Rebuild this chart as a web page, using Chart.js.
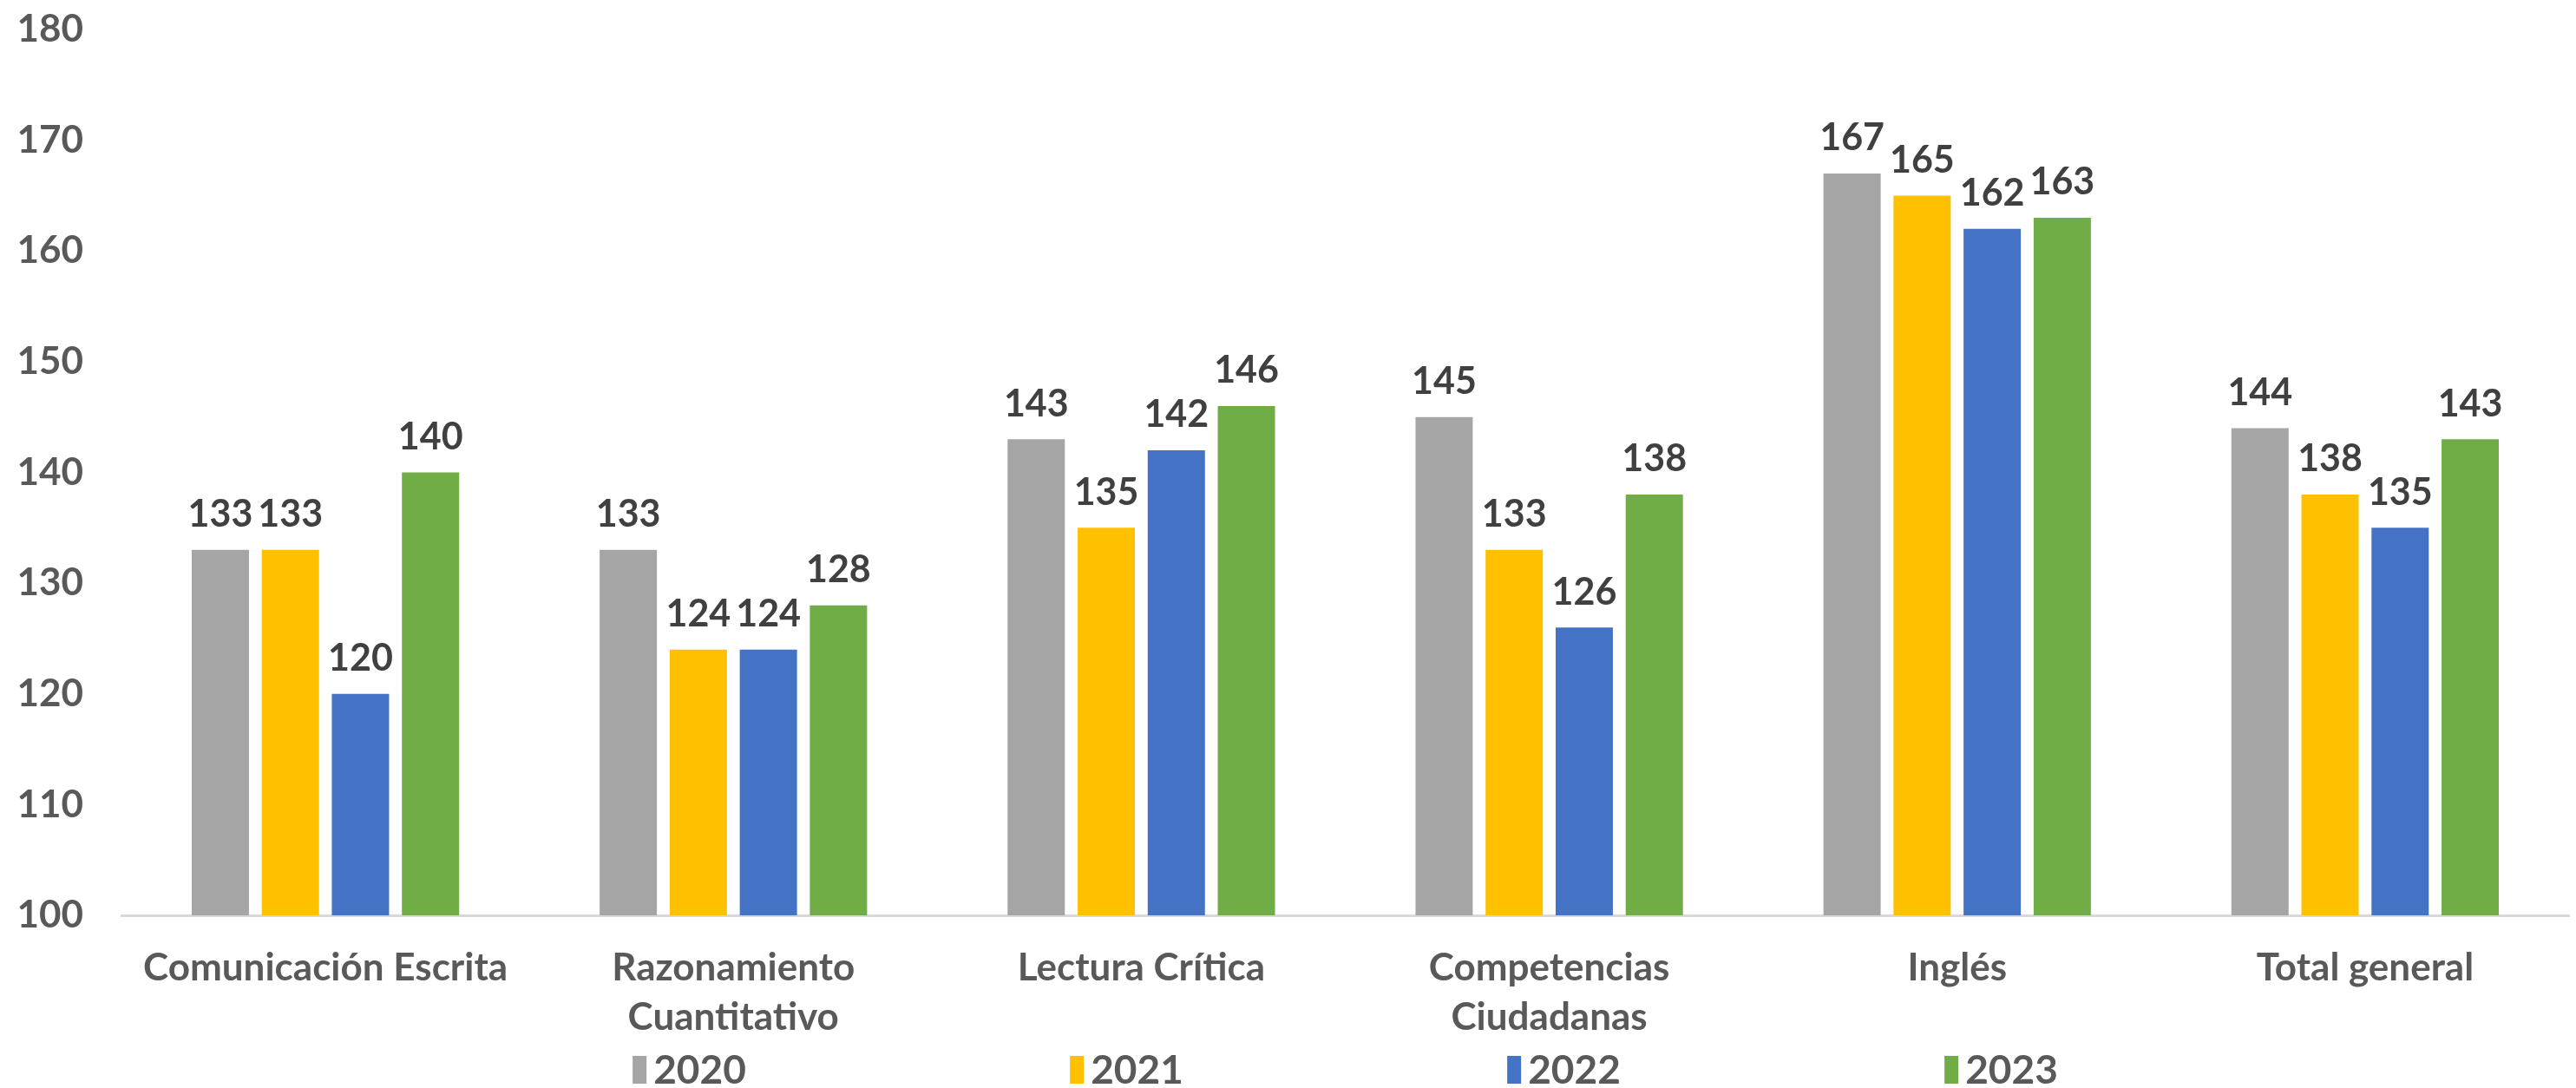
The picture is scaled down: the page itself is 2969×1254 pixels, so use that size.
<!DOCTYPE html>
<html>
<head>
<meta charset="utf-8">
<script src="https://cdn.jsdelivr.net/npm/chart.js@4.4.1/dist/chart.umd.min.js"></script>
<style>
  html, body { margin: 0; padding: 0; background: #ffffff; }
  #wrap { width: 2969px; height: 1254px; position: relative; }
</style>
</head>
<body>
<div id="wrap"><canvas id="c" width="2969" height="1254"></canvas></div>
<script>
const categories = [
  "Comunicación Escrita",
  ["Razonamiento", "Cuantitativo"],
  "Lectura Crítica",
  ["Competencias", "Ciudadanas"],
  "Inglés",
  "Total general"
];
const seriesNames = ["2020", "2021", "2022", "2023"];
const values2020 = [133, 133, 143, 145, 167, 144];
const values2021 = [133, 124, 135, 133, 165, 138];
const values2022 = [120, 124, 142, 126, 162, 135];
const values2023 = [140, 128, 146, 138, 163, 143];
const seriesColors = ["#A5A5A5", "#FFC000", "#4472C4", "#70AD47"];
const yMin = 100, yMax = 180, yStep = 10;

const FONT = "Lato, 'Open Sans', sans-serif";

const dataLabels = {
  id: "dataLabels",
  afterDatasetsDraw(chart) {
    const ctx = chart.ctx;
    ctx.save();
    ctx.font = "bold 43px " + FONT;
    ctx.fillStyle = "#404040";
    ctx.textAlign = "center";
    ctx.textBaseline = "bottom";
    chart.data.datasets.forEach((ds, i) => {
      const meta = chart.getDatasetMeta(i);
      meta.data.forEach((el, j) => {
        ctx.fillText(String(ds.data[j]), el.x, el.y - 19);
      });
    });
    ctx.restore();
  }
};

const customLegend = {
  id: "customLegend",
  afterDraw(chart) {
    const ctx = chart.ctx;
    const ca = chart.chartArea;
    ctx.save();
    ctx.font = "bold 46px " + FONT;
    ctx.textBaseline = "middle";
    ctx.textAlign = "left";
    const boxW = 16, boxH = 32, gap = 8, slot = 504;
    const ds = chart.data.datasets;
    const lastW = boxW + gap + ctx.measureText(ds[ds.length - 1].label).width;
    const total = slot * (ds.length - 1) + lastW;
    const cx = (ca.left + ca.right) / 2;
    let x = cx - total / 2;
    const y = 1233;
    ds.forEach((d) => {
      ctx.fillStyle = d.backgroundColor;
      ctx.fillRect(x, y - boxH / 2, boxW, boxH);
      ctx.fillStyle = "#595959";
      ctx.fillText(d.label, x + boxW + gap, y + 1);
      x += slot;
    });
    ctx.restore();
  }
};

const allValues = [values2020, values2021, values2022, values2023];

new Chart(document.getElementById("c"), {
  type: "bar",
  data: {
    labels: categories,
    datasets: seriesNames.map((name, i) => ({
      label: name,
      data: allValues[i],
      backgroundColor: seriesColors[i],
      borderWidth: 0,
      categoryPercentage: 0.687,
      barPercentage: 0.817
    }))
  },
  options: {
    responsive: false,
    animation: false,
    devicePixelRatio: 1,
    layout: { padding: { left: 0, right: 8, top: 0, bottom: 0 } },
    plugins: {
      legend: { display: false },
      tooltip: { enabled: false }
    },
    scales: {
      x: {
        grid: { display: false, drawTicks: false },
        border: { display: true, color: "#D9D9D9", width: 3 },
        afterFit(scale) { scale.height = 199; },
        ticks: {
          color: "#595959",
          font: { family: FONT, size: 44, weight: "bold", lineHeight: 1.3 },
          padding: 32,
          maxRotation: 0,
          autoSkip: false
        }
      },
      y: {
        min: yMin,
        max: yMax,
        grid: { display: false, drawTicks: false },
        border: { display: false },
        afterFit(scale) { scale.width = 140; scale.paddingTop = 34; scale.paddingBottom = 0; },
        ticks: {
          stepSize: yStep,
          color: "#595959",
          font: { family: FONT, size: 44, weight: "bold" },
          padding: 44
        }
      }
    }
  },
  plugins: [dataLabels, customLegend]
});
</script>
</body>
</html>
